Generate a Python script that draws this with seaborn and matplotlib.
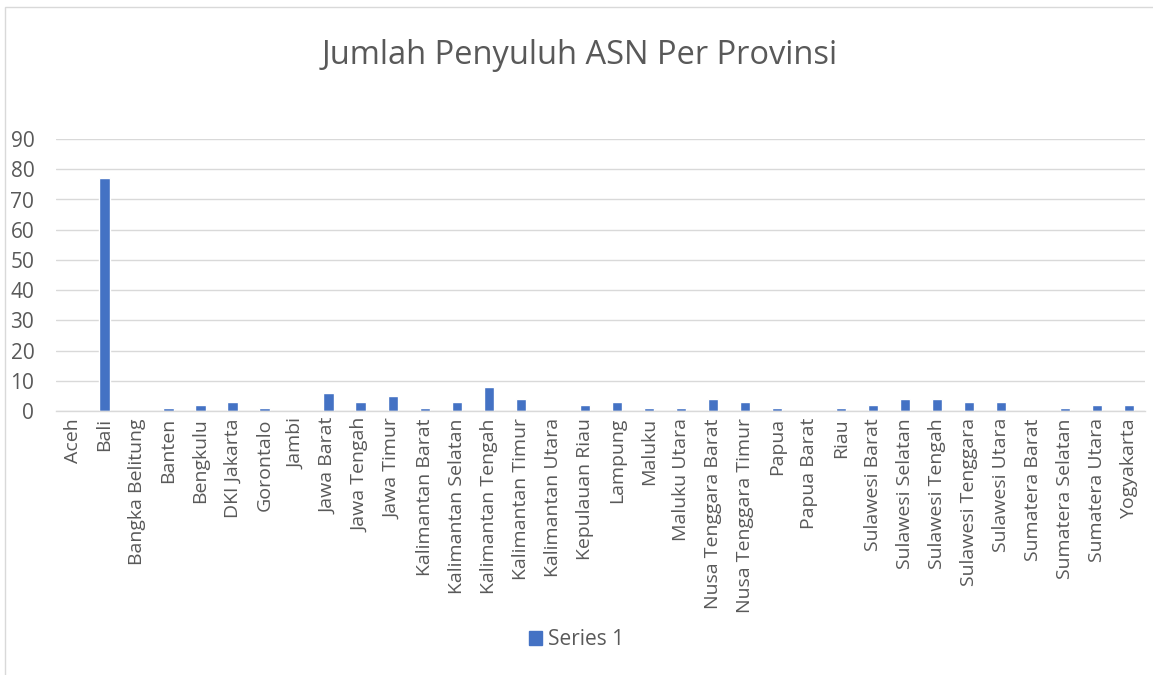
import pandas as pd
import seaborn as sns
import matplotlib.pyplot as plt
from matplotlib.patches import Rectangle, Patch

provinsi = ["Aceh", "Bali", "Bangka Belitung", "Banten", "Bengkulu", "DKI Jakarta",
            "Gorontalo", "Jambi", "Jawa Barat", "Jawa Tengah", "Jawa Timur",
            "Kalimantan Barat", "Kalimantan Selatan", "Kalimantan Tengah",
            "Kalimantan Timur", "Kalimantan Utara", "Kepulauan Riau", "Lampung",
            "Maluku", "Maluku Utara", "Nusa Tenggara Barat", "Nusa Tenggara Timur",
            "Papua", "Papua Barat", "Riau", "Sulawesi Barat", "Sulawesi Selatan",
            "Sulawesi Tengah", "Sulawesi Tenggara", "Sulawesi Utara", "Sumatera Barat",
            "Sumatera Selatan", "Sumatera Utara", "Yogyakarta"]
jumlah = [0, 77, 0, 1, 2, 3, 1, 0, 6, 3, 5, 1, 3, 8, 4, 0, 2, 3, 1, 1, 4, 3,
          1, 0, 1, 2, 4, 4, 3, 3, 0, 1, 2, 2]

df = pd.DataFrame({"provinsi": provinsi, "jumlah": jumlah})

sns.set_style("white")
plt.rcParams["font.family"] = ["Open Sans", "DejaVu Sans"]
text_col = "#595959"
bar_col = "#4472C4"

fig = plt.figure(figsize=(11.53, 6.75), dpi=100)
ax = fig.add_axes([0.049, 0.391, 0.944, 0.403])

sns.barplot(data=df, x="provinsi", y="jumlah", color=bar_col, width=0.32,
            saturation=1, ax=ax)

ax.set_ylim(0, 90)
ax.set_yticks(range(0, 91, 10))
ax.set_xlim(-0.5, len(provinsi) - 0.5)
ax.grid(axis="y", color="#D9D9D9", linewidth=1)
ax.set_axisbelow(True)
for s in ["top", "right", "left"]:
    ax.spines[s].set_visible(False)
ax.spines["bottom"].set_color("#D9D9D9")
ax.spines["bottom"].set_linewidth(1)
ax.tick_params(axis="x", length=0, colors=text_col, labelsize=14, pad=5)
ax.tick_params(axis="y", length=0, colors=text_col, labelsize=15, pad=16)
plt.setp(ax.get_xticklabels(), rotation=90)
ax.set_xlabel("")
ax.set_ylabel("")

fig.text(0.503, 0.918, "Jumlah Penyuluh ASN Per Provinsi", ha="center", va="center",
         fontsize=23.5, color=text_col)

fig.legend(handles=[Patch(color=bar_col, label="Series 1")], loc="center",
           bbox_to_anchor=(0.5, 0.052), frameon=False, fontsize=15,
           labelcolor=text_col, handlelength=0.6, handleheight=0.6, handletextpad=0.3)

fig.patches.append(Rectangle((0.004, -0.01), 1.0, 1.0, transform=fig.transFigure,
                             fill=False, edgecolor="#D9D9D9", linewidth=1))

fig.savefig("out.png", dpi=100)
